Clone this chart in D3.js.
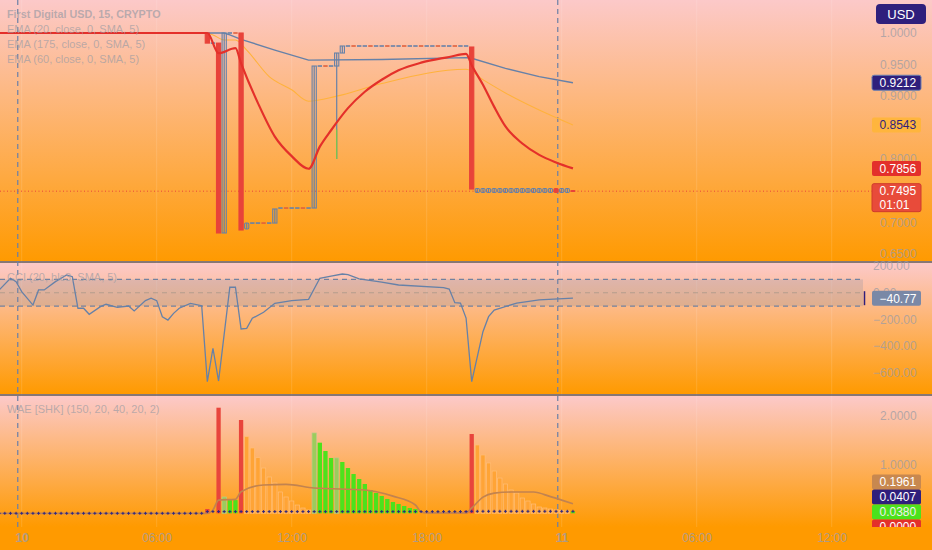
<!DOCTYPE html>
<html><head><meta charset="utf-8">
<script src="https://cdn.jsdelivr.net/npm/d3@7"></script>
<style>html,body{margin:0;padding:0;background:#ff9800;}svg{display:block;}</style>
</head><body><svg id="c" width="932" height="550"></svg>
<script>
// ---------- DATA ----------
const timeTickIdx = [0, 24, 48, 72, 96, 120, 144];
const timeTickLabels = ["10", "06:00", "12:00", "18:00", "11", "06:00", "12:00"];
const daySeparators = [-0.7, 95.3];

const priceTicks = [1.0, 0.95, 0.9, 0.8, 0.7, 0.65];
const cciTicks = [200, 0, -200, -400, -600];
const waeTicks = [2, 1];

// [barIndex, open, high, low, close]
const candles = [
  [33, 1.0, 1.0, 0.984, 0.984],
  [35, 0.984, 0.984, 0.6833, 0.6833],
  [36, 0.6833, 1.0, 0.6833, 1.0],
  [39, 1.0, 1.0, 0.688, 0.688],
  [40, 0.6896, 0.699, 0.6896, 0.699],
  [45, 0.699, 0.7213, 0.699, 0.7213],
  [52, 0.7228, 0.9477, 0.7228, 0.9477],
  [56, 0.9477, 0.9683, 0.8004, 0.9683],
  [57, 0.9683, 0.9794, 0.9683, 0.9794],
  [80, 0.9778, 0.9778, 0.7529, 0.7529],
  [81, 0.7474, 0.7538, 0.7474, 0.7538],
  [82, 0.7474, 0.7538, 0.7474, 0.7538],
  [83, 0.7474, 0.7538, 0.7474, 0.7538],
  [84, 0.7474, 0.7538, 0.7474, 0.7538],
  [85, 0.7474, 0.7538, 0.7474, 0.7538],
  [86, 0.7474, 0.7538, 0.7474, 0.7538],
  [87, 0.7474, 0.7538, 0.7474, 0.7538],
  [88, 0.7474, 0.7538, 0.7474, 0.7538],
  [89, 0.7474, 0.7538, 0.7474, 0.7538],
  [90, 0.7474, 0.7538, 0.7474, 0.7538],
  [91, 0.7474, 0.7538, 0.7474, 0.7538],
  [92, 0.7474, 0.7538, 0.7474, 0.7538],
  [93, 0.7474, 0.7538, 0.7474, 0.7538],
  [94, 0.7474, 0.7538, 0.7474, 0.7538],
  [95, 0.7538, 0.7538, 0.7474, 0.7474],
  [96, 0.7474, 0.7538, 0.7474, 0.7538],
  [97, 0.7474, 0.7538, 0.7474, 0.7538],
  [98, 0.7505, 0.7505, 0.7495, 0.7495]
];
// runs of flat (unchanged) bars: [fromIndex, toIndex, price]
const flatRuns = [[-4, 32, 1.0], [34, 34, 0.984], [37, 38, 1.0], [41, 44, 0.699], [46, 51, 0.7228], [53, 55, 0.9477], [58, 79, 0.9794]];
// green-tinted lower wick part: [barIndex, from, to]
const greenWick = [56, 0.847, 0.8004];

const ema20 = [[-4, 1.0], [33, 1.0], [35, 0.968], [38, 0.976], [39, 0.952], [42, 0.889], [45, 0.836], [48, 0.805], [51, 0.785], [53, 0.82], [55, 0.846], [58, 0.881], [61, 0.907], [64, 0.926], [67, 0.941], [71, 0.953], [76, 0.962], [79, 0.967], [80, 0.949], [82, 0.918], [84, 0.883], [86, 0.852], [89, 0.825], [92, 0.807], [95, 0.795], [98, 0.7856]];
const ema175 = [[-4, 1.0], [36, 1.0], [37, 0.997], [39, 0.99], [45, 0.973], [51, 0.957], [64, 0.958], [79, 0.961], [80, 0.96], [86, 0.944], [92, 0.931], [98, 0.9212]];
const ema60 = [[-4, 1.0], [33, 1.0], [34, 0.997], [36, 0.989], [38, 0.989], [40, 0.973], [44, 0.931], [48, 0.91], [51, 0.892], [56, 0.9], [64, 0.92], [79, 0.9425], [82, 0.926], [86, 0.905], [92, 0.878], [98, 0.8543]];
const lastPrice = 0.7495;

const cci = [[-4, 21], [-2, 108], [-1, 83], [0, 8], [2, -92], [3, 21], [4, 21], [6, 83], [8, 133], [9, 120], [10, -116], [11, -116], [12, -161], [14, -104], [15, -86], [17, -109], [19, -99], [20, -136], [22, -59], [23, -41], [24, -59], [25, -179], [26, -204], [27, -154], [28, -116], [30, -79], [32, -97], [33, -665], [34, -415], [35, -660], [37, 41], [38, 41], [39, -271], [40, -266], [41, -191], [43, -146], [45, -79], [48, -59], [51, -49], [53, 108], [55, 125], [57, 140], [58, 135], [60, 103], [64, 80], [67, 58], [75, 38], [76, 28], [77, -74], [78, -77], [79, -189], [80, -665], [81, -478], [82, -291], [83, -179], [84, -129], [88, -77], [92, -54], [98, -40.77]];
const cciBand = [100, -100];

// WAE histogram: [barIndex, value, kind]  kind: up, upFade, down, downFade
const waeBars = [
  [33, 0.088, "down"], [35, 2.155, "down"], [36, 0.333, "upFade"], [37, 0.27, "up"], [38, 0.27, "up"], [39, 1.904, "down"],
  [40, 1.563, "downFade"], [41, 1.333, "downFade"], [42, 1.135, "downFade"], [43, 0.924, "downFade"], [44, 0.741, "downFade"], [45, 0.618, "downFade"],
  [46, 0.435, "downFade"], [47, 0.333, "downFade"], [48, 0.251, "downFade"], [49, 0.169, "downFade"], [50, 0.108, "downFade"], [51, 0.067, "downFade"],
  [52, 1.639, "upFade"], [53, 1.441, "up"], [54, 1.271, "up"], [55, 1.129, "up"], [56, 1.129, "upFade"], [57, 1.047, "up"], [58, 0.924, "up"],
  [59, 0.802, "up"], [60, 0.7, "up"], [61, 0.598, "up"], [62, 0.476, "up"], [63, 0.414, "up"], [64, 0.353, "up"], [65, 0.292, "up"],
  [66, 0.231, "up"], [67, 0.19, "up"], [68, 0.149, "up"], [69, 0.108, "up"], [70, 0.088, "up"],
  [76, 0.01, "down"], [77, 0.02, "down"], [78, 0.03, "down"], [79, 0.05, "down"],
  [80, 1.618, "down"], [81, 1.394, "downFade"], [82, 1.19, "downFade"], [83, 1.027, "downFade"], [84, 0.863, "downFade"], [85, 0.72, "downFade"],
  [86, 0.598, "downFade"], [87, 0.476, "downFade"], [88, 0.414, "downFade"], [89, 0.312, "downFade"], [90, 0.251, "downFade"], [91, 0.19, "downFade"],
  [92, 0.129, "downFade"], [93, 0.108, "downFade"], [94, 0.088, "downFade"], [95, 0.07, "downFade"], [96, 0.06, "downFade"], [97, 0.05, "downFade"], [98, 0.038, "up"]
];
const explosion = [[-4, 0], [33, 0], [34, 0.067], [35, 0.27], [38, 0.286], [39, 0.44], [43, 0.578], [47, 0.592], [52, 0.516], [61, 0.476], [66, 0.35], [70, 0.169], [71, 0.027], [72, 0.01], [79, 0.01], [80, 0.108], [82, 0.33], [84, 0.41], [87, 0.435], [91, 0.435], [94, 0.34], [96, 0.27], [98, 0.196]];
// dead zone steps: [fromIndex, toIndex, value]
const deadZone = [[-4, 32, 0.0], [33, 79, 0.035], [80, 98, 0.0407]];
const waeLast = { explosion: 0.1961, deadZone: 0.0407, up: 0.0380, down: 0.0 };

const legends = {
  price: ["First Digital USD, 15, CRYPTO", "EMA (20, close, 0, SMA, 5)", "EMA (175, close, 0, SMA, 5)", "EMA (60, close, 0, SMA, 5)"],
  cci: "CCI (20, hlc3, SMA, 5)",
  wae: "WAE [SHK] (150, 20, 40, 20, 2)"
};

// ---------- LAYOUT ----------
const W = 932, H = 550;
const panes = { price: [0, 262], cci: [263, 394], wae: [396, 527], axis: [527, 550] };
const axisX = 880;
const FONT = "'Liberation Sans', Arial, sans-serif";
const TXT = "#9c9ca4";

const svg = d3.select("#c");
const defs = svg.append("defs");
const grad = defs.append("linearGradient").attr("id", "bg").attr("x1", 0).attr("x2", 0).attr("y1", 0).attr("y2", 1);
grad.append("stop").attr("offset", "0%").attr("stop-color", "#fcc9c9");
grad.append("stop").attr("offset", "100%").attr("stop-color", "#ff9a00");

const x = d3.scaleLinear().domain([0, 96]).range([21.7, 561.7]);
const yP = d3.scaleLinear().domain([0.65, 1.0]).range([254, 33]);
const yC = d3.scaleLinear().domain([-600, 200]).range([373, 266]);
const yW = d3.scaleLinear().domain([0, 2]).range([513.3, 415.3]);

// backgrounds
for (const k of ["price", "cci", "wae"]) {
  svg.append("rect").attr("x", 0).attr("y", panes[k][0]).attr("width", W).attr("height", panes[k][1] - panes[k][0]).attr("fill", "url(#bg)");
}
// faint grid
svg.append("g").selectAll("line").data(timeTickIdx).join("line")
  .attr("x1", d => x(d)).attr("x2", d => x(d)).attr("y1", 0).attr("y2", 527)
  .attr("stroke", "rgba(255,255,255,0.13)").attr("stroke-width", 1);

// separators
svg.append("g").selectAll("line").data([262, 395]).join("line")
  .attr("x1", 0).attr("x2", W).attr("y1", d => d).attr("y2", d => d)
  .attr("stroke", "#5f6d9c").attr("stroke-width", 1.5);

// day separators
svg.append("g").selectAll("line").data(daySeparators).join("line")
  .attr("x1", d => x(d)).attr("x2", d => x(d)).attr("y1", 0).attr("y2", 527)
  .attr("stroke", "#6b7fa6").attr("stroke-width", 1.2).attr("stroke-dasharray", "5,4");

// ---------- PRICE PANE ----------
const gP = svg.append("g");
gP.append("line").attr("x1", 0).attr("x2", 872).attr("y1", yP(lastPrice)).attr("y2", yP(lastPrice))
  .attr("stroke", "#e8453c").attr("stroke-width", 1).attr("stroke-dasharray", "1,2.5");

gP.append("path").datum(ema60).attr("d", d3.line().x(d => x(d[0])).y(d => yP(d[1])).curve(d3.curveMonotoneX))
  .attr("fill", "none").attr("stroke", "#ffb23c").attr("stroke-width", 1.1);
gP.append("path").datum(ema175).attr("d", d3.line().x(d => x(d[0])).y(d => yP(d[1])))
  .attr("fill", "none").attr("stroke", "#6681a8").attr("stroke-width", 1.4);

// flat bars
const flats = [];
flatRuns.forEach(r => { for (let i = r[0]; i <= r[1]; i++) flats.push([i, r[2]]); });
gP.append("g").selectAll("line").data(flats).join("line")
  .attr("x1", d => x(d[0]) - 2.2).attr("x2", d => x(d[0]) + 2.2).attr("y1", d => yP(d[1])).attr("y2", d => yP(d[1]))
  .attr("stroke", (d, i) => (i % 3 === 0 ? "#e0603c" : "#6681a8")).attr("stroke-width", 1.6);

// candles
const cg = gP.append("g").selectAll("g").data(candles).join("g");
cg.append("line").attr("x1", d => x(d[0])).attr("x2", d => x(d[0]))
  .attr("y1", d => yP(d[2])).attr("y2", d => yP(d[3]))
  .attr("stroke", d => d[4] >= d[1] ? "#6681a8" : "#e8433a").attr("stroke-width", 1.2);
cg.append("rect")
  .attr("x", d => x(d[0]) - 2.1).attr("width", 4.2)
  .attr("y", d => yP(Math.max(d[1], d[4])))
  .attr("height", d => Math.max(1, Math.abs(yP(d[1]) - yP(d[4]))))
  .attr("rx", d => Math.abs(yP(d[1]) - yP(d[4])) < 6 ? 1.2 : 0)
  .attr("fill", d => d[4] >= d[1] ? "none" : "#e8433a")
  .attr("stroke", d => d[4] >= d[1] ? "#6681a8" : "#e8433a").attr("stroke-width", 1.1);
gP.append("line").attr("x1", x(greenWick[0])).attr("x2", x(greenWick[0]))
  .attr("y1", yP(greenWick[1])).attr("y2", yP(greenWick[2])).attr("stroke", "#7cc84a").attr("stroke-width", 1.2);

gP.append("path").datum(ema20).attr("d", d3.line().x(d => x(d[0])).y(d => yP(d[1])).curve(d3.curveMonotoneX))
  .attr("fill", "none").attr("stroke", "#e4302a").attr("stroke-width", 2.2);

// ---------- CCI PANE ----------
const gC = svg.append("g");
gC.append("rect").attr("x", 0).attr("width", 863).attr("y", yC(cciBand[0])).attr("height", yC(cciBand[1]) - yC(cciBand[0]))
  .attr("fill", "rgba(120,130,160,0.22)");
gC.selectAll("line.h").data([cciBand[0], 0, cciBand[1]]).join("line")
  .attr("x1", 0).attr("x2", 863).attr("y1", d => yC(d)).attr("y2", d => yC(d))
  .attr("stroke", d => d === 0 ? "rgba(165,150,135,0.75)" : "#7382a0").attr("stroke-width", 1.1).attr("stroke-dasharray", "5,4");
gC.append("path").datum(cci).attr("d", d3.line().x(d => x(d[0])).y(d => yC(d[1])))
  .attr("fill", "none").attr("stroke", "#6681a8").attr("stroke-width", 1.3);

// ---------- WAE PANE ----------
const gW = svg.append("g");
const waeColor = { up: "#4ce21c", upFade: "#9ccc5c", down: "#e8453c", downFade: "#ffa436" };
gW.append("g").selectAll("rect").data(waeBars).join("rect")
  .attr("x", d => x(d[0]) - 2.15).attr("width", 4.3)
  .attr("y", d => yW(d[1])).attr("height", d => yW(0) - yW(d[1]))
  .attr("fill", d => waeColor[d[2]])
  .attr("stroke", d => d[2] === "downFade" ? "#ffbe7a" : (d[2] === "upFade" ? "#b9c98a" : "none")).attr("stroke-width", 0.7);
gW.append("path").datum(explosion).attr("d", d3.line().x(d => x(d[0])).y(d => yW(d[1])).curve(d3.curveMonotoneX))
  .attr("fill", "none").attr("stroke", "#c2834f").attr("stroke-width", 1.7);
const dz = [];
deadZone.forEach(r => { for (let i = r[0]; i <= r[1]; i++) dz.push([i, r[2]]); });
const dzg = gW.append("g").selectAll("g").data(dz).join("g").attr("transform", d => `translate(${x(d[0])},${yW(d[1])})`);
dzg.append("line").attr("x1", -1.5).attr("x2", 1.5).attr("stroke", "#2f2880").attr("stroke-width", 1);
dzg.append("line").attr("y1", -1.5).attr("y2", 1.5).attr("stroke", "#2f2880").attr("stroke-width", 1);

// ---------- AXIS LABELS ----------
const axisText = (g, data, yf, fmt, xx) => g.append("g").selectAll("text").data(data).join("text")
  .attr("x", xx).attr("y", d => yf(d)).attr("dy", "0.35em")
  .attr("font-family", FONT).attr("font-size", 12).attr("fill", TXT).attr("fill-opacity", 0.75).text(fmt);
axisText(svg, priceTicks, yP, d => d.toFixed(4), axisX);
axisText(svg, cciTicks, yC, d => d3.format(".2f")(d).replace("-", "\u2212"), 873);
axisText(svg, waeTicks, yW, d => d.toFixed(4), axisX);

// legends
const lg = svg.append("g").attr("font-family", FONT).attr("font-size", 11).attr("fill", TXT).attr("fill-opacity", 0.7);
legends.price.forEach((t, i) => lg.append("text").attr("x", 7).attr("y", 14 + i * 15).attr("dy", "0.35em")
  .attr("font-weight", i === 0 ? "bold" : "normal").attr("font-size", i === 0 ? 10.8 : 11).text(t));
lg.append("text").attr("x", 7).attr("y", 277.5).attr("dy", "0.35em").text(legends.cci);
lg.append("text").attr("x", 7).attr("y", 409).attr("dy", "0.35em").text(legends.wae);

// value boxes
function box(yc, txt, fill, color, h = 15, stroke = null) {
  const g = svg.append("g");
  g.append("rect").attr("x", 872).attr("y", yc - 7.5).attr("width", 49).attr("height", h).attr("rx", 2)
    .attr("fill", fill).attr("stroke", stroke || "none");
  const lines = Array.isArray(txt) ? txt : [txt];
  lines.forEach((t, i) => g.append("text").attr("x", 879.5).attr("y", yc + i * 14).attr("dy", "0.36em")
    .attr("font-family", FONT).attr("font-size", 12).attr("fill", color).text(t));
}
box(yP(0.9212), "0.9212", "#2f1f7c", "#ffffff", 15, "#6a7fb0");
box(yP(0.8543), "0.8543", "#ffb53d", "#2f1f7c");
box(yP(0.7856), "0.7856", "#e3302b", "#ffffff");
box(yP(lastPrice), ["0.7495", "01:01"], "#e84b3a", "#ffffff", 28, "#cf3a2c");
box(yC(-40.77), "\u221240.77", "#7a88a6", "#ffffff");
svg.append("line").attr("x1", 864.5).attr("x2", 864.5).attr("y1", yC(-40.77) - 7).attr("y2", yC(-40.77) + 7).attr("stroke", "#2f1f7c").attr("stroke-width", 1.5);
const gy = Math.round(yW(waeLast.up)) + 1;
box(gy - 30, waeLast.explosion.toFixed(4), "#c8884f", "#ffffff");
box(gy - 15, waeLast.deadZone.toFixed(4), "#2f1f7c", "#ffffff");
box(gy, waeLast.up.toFixed(4), "#4ce21c", "#f0f0f0");
box(gy + 15, waeLast.down.toFixed(4), "#e3302b", "#ffffff");

// USD box
svg.append("rect").attr("x", 876).attr("y", 4).attr("width", 50).attr("height", 20).attr("rx", 4).attr("fill", "#2f1f7c");
svg.append("text").attr("x", 901).attr("y", 14).attr("dy", "0.36em").attr("text-anchor", "middle")
  .attr("font-family", FONT).attr("font-size", 13).attr("fill", "#ffffff").text("USD");

// ---------- TIME AXIS ----------
svg.append("rect").attr("x", 0).attr("y", panes.axis[0]).attr("width", W).attr("height", H - panes.axis[0]).attr("fill", "#ff9a00");
const xAxis = d3.axisBottom(x).tickValues(timeTickIdx).tickFormat((d, i) => timeTickLabels[i]).tickSize(0).tickPadding(0);
const ax = svg.append("g").attr("transform", `translate(0,${panes.axis[0] + 6})`).call(xAxis);
ax.select(".domain").remove();
ax.selectAll("text").attr("font-family", FONT).attr("font-size", 12).attr("fill", TXT).attr("fill-opacity", 0.8)
  .attr("font-weight", (d, i) => (timeTickLabels[i].length <= 2 ? "bold" : "normal"));
</script></body></html>
